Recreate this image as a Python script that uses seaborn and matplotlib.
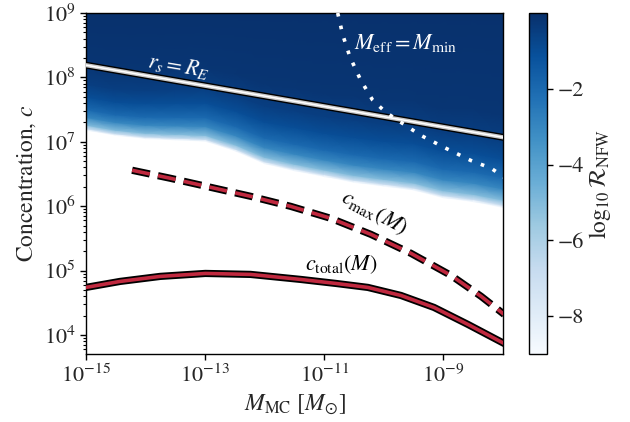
import numpy as np
import matplotlib
matplotlib.use("Agg")
import matplotlib.pyplot as plt
import matplotlib.patheffects as pe
import seaborn as sns

# ---------------- data ----------------
# heat-map: columns in log10 M, lower edge (value = -9) in log10 c,
# and depth above the edge (decades, scaled per column) of each value level
heat_logM = [-15, -14.5, -14, -13.5, -13, -12.5, -12, -11.5, -11, -10.5, -10, -9.5, -9, -8.5, -8]
heat_edge_logc = [7.18, 7.10, 7.05, 7.03, 7.01, 6.86, 6.66, 6.55, 6.46, 6.37, 6.31, 6.25, 6.13, 6.07, 5.98]
heat_width = [1.0, 1.0, 1.05, 1.1, 1.15, 1.2, 1.25, 1.3, 1.3, 1.35, 1.35, 1.4, 1.4, 1.45, 1.45]
heat_levels = [-9.0, -7.0, -5.0, -3.0, -2.0, -1.0, -0.5, -0.2]
heat_depth = [0.0, 0.025, 0.08, 0.2, 0.32, 0.52, 0.72, 1.0]
heat_top_logc = 9.0
heat_top_value = -0.05

# r_s = R_E
rs_logM = [-15.0, -8.0]
rs_logc = [8.19, 7.07]

# M_eff = M_min
meff_logM = [-10.775, -10.69, -10.57, -10.39, -10.19, -9.97, -9.71, -9.38, -8.96, -8.54, -8.20, -7.98]
meff_logc = [9.0, 8.66, 8.32, 7.96, 7.65, 7.46, 7.30, 7.10, 6.90, 6.71, 6.59, 6.45]

# c_max(M)
cmax_logM = [-14.226, -13.586, -12.912, -12.239, -11.566, -10.892, -10.219, -9.545, -8.872, -8.367, -7.98]
cmax_logc = [6.558, 6.434, 6.294, 6.154, 5.998, 5.812, 5.563, 5.268, 4.925, 4.600, 4.319]

# c_total(M)
ctot_logM = [-15.0, -14.428, -13.754, -12.997, -12.239, -11.397, -10.808, -10.269, -9.714, -9.158, -8.586, -7.98]
ctot_logc = [4.739, 4.832, 4.910, 4.956, 4.941, 4.863, 4.801, 4.739, 4.614, 4.428, 4.163, 3.868]

xticks = [1e-15, 1e-13, 1e-11, 1e-9]
yticks = [1e4, 1e5, 1e6, 1e7, 1e8, 1e9]
cbar_ticks = [-2, -4, -6, -8]

# ---------------- style ----------------
sns.set_style("ticks")
plt.rcParams["font.family"] = ["STIXGeneral", "DejaVu Serif"]
plt.rcParams["mathtext.fontset"] = "stix"
plt.rcParams["axes.unicode_minus"] = True

fig = plt.figure(figsize=(6.3, 4.22), dpi=100)
ax = fig.add_axes([86 / 630, 1 - 354 / 422, (503 - 86) / 630, (354 - 13) / 422])
cax = fig.add_axes([529 / 630, 1 - 354 / 422, 18 / 630, (354 - 13) / 422])
ax.set_xscale("log")
ax.set_yscale("log")

# ---------------- heat map ----------------
lm = np.array(heat_logM)
edge = np.array(heat_edge_logc)
wid = np.array(heat_width)
depth = np.array(heat_depth)
Ylog = np.vstack([edge[None, :] + depth[:, None] * wid[None, :],
                  np.full((1, lm.size), heat_top_logc)])
Cval = np.vstack([np.repeat(np.array(heat_levels)[:, None], lm.size, axis=1),
                  np.full((1, lm.size), heat_top_value)])
Xlog = np.repeat(lm[None, :], Ylog.shape[0], axis=0)
mesh = ax.pcolormesh(10 ** Xlog, 10 ** Ylog, Cval, shading="gouraud",
                     cmap="Blues", vmin=-9, vmax=0, zorder=1)

# ---------------- curves ----------------
red = "#c0293f"
rs_M = 10 ** np.array(rs_logM)
rs_c = 10 ** np.array(rs_logc)
sns.lineplot(x=rs_M, y=rs_c, ax=ax, color="#c8c8c8", lw=3.0, zorder=4,
             path_effects=[pe.Stroke(linewidth=5.0, foreground="black"), pe.Normal()])
sns.lineplot(x=rs_M, y=rs_c, ax=ax, color="white", lw=1.1, zorder=5)

sns.lineplot(x=10 ** np.array(meff_logM), y=10 ** np.array(meff_logc), ax=ax,
             color="white", lw=2.6, linestyle=(0, (1, 2.6)), zorder=4, sort=False)

sns.lineplot(x=10 ** np.array(cmax_logM), y=10 ** np.array(cmax_logc), ax=ax,
             color=red, lw=2.6, linestyle=(0, (5.0, 2.3)), zorder=4,
             path_effects=[pe.Stroke(linewidth=5.2, foreground="black"), pe.Normal()])

sns.lineplot(x=10 ** np.array(ctot_logM), y=10 ** np.array(ctot_logc), ax=ax,
             color=red, lw=2.6, zorder=4,
             path_effects=[pe.Stroke(linewidth=5.2, foreground="black"), pe.Normal()])

# ---------------- labels ----------------
ax.text(10 ** -13.45, 10 ** 8.175, r"$r_s = R_E$", color="white", fontsize=16,
        rotation=-9.5, ha="center", va="center", rotation_mode="anchor", zorder=6)
ax.text(10 ** -9.63, 10 ** 8.53, r"$M_{\rm eff} = M_{\rm min}$", color="white",
        fontsize=16, ha="center", va="center", zorder=6)
ax.text(10 ** -10.17, 10 ** 5.90, r"$c_{\rm max}(M)$", color="black", fontsize=16,
        rotation=-28, ha="center", va="center", rotation_mode="anchor", zorder=6)
ax.text(10 ** -10.72, 10 ** 5.09, r"$c_{\rm total}(M)$", color="black", fontsize=16,
        ha="center", va="center", zorder=6)

ax.set_xlim(1e-15, 1e-8)
ax.set_ylim(5.07e3, 1e9)
ax.set_xticks(xticks)
ax.xaxis.set_minor_locator(matplotlib.ticker.NullLocator())
ax.set_yticks(yticks)
ax.yaxis.set_minor_locator(matplotlib.ticker.LogLocator(base=10, subs=np.arange(2, 10), numticks=20))
ax.yaxis.set_minor_formatter(matplotlib.ticker.NullFormatter())
ax.tick_params(axis="both", which="major", labelsize=16, length=4, width=1, color="black")
ax.tick_params(axis="both", which="minor", length=2, width=0.8, color="black")
ax.set_xlabel(r"$M_{\rm MC}$ [$M_{\odot}$]", fontsize=17)
ax.set_ylabel(r"Concentration, $c$", fontsize=17)
for s in ax.spines.values():
    s.set_color("black")
    s.set_linewidth(1.0)

cb = fig.colorbar(mesh, cax=cax)
cb.set_ticks(cbar_ticks)
cb.ax.tick_params(labelsize=16, length=4, width=1, color="black")
cb.outline.set_edgecolor("black")
cb.outline.set_linewidth(1.0)
cb.set_label(r"$\log_{10}\mathcal{R}_{\rm NFW}$", fontsize=17, labelpad=2)

fig.savefig("out.png", dpi=100)
